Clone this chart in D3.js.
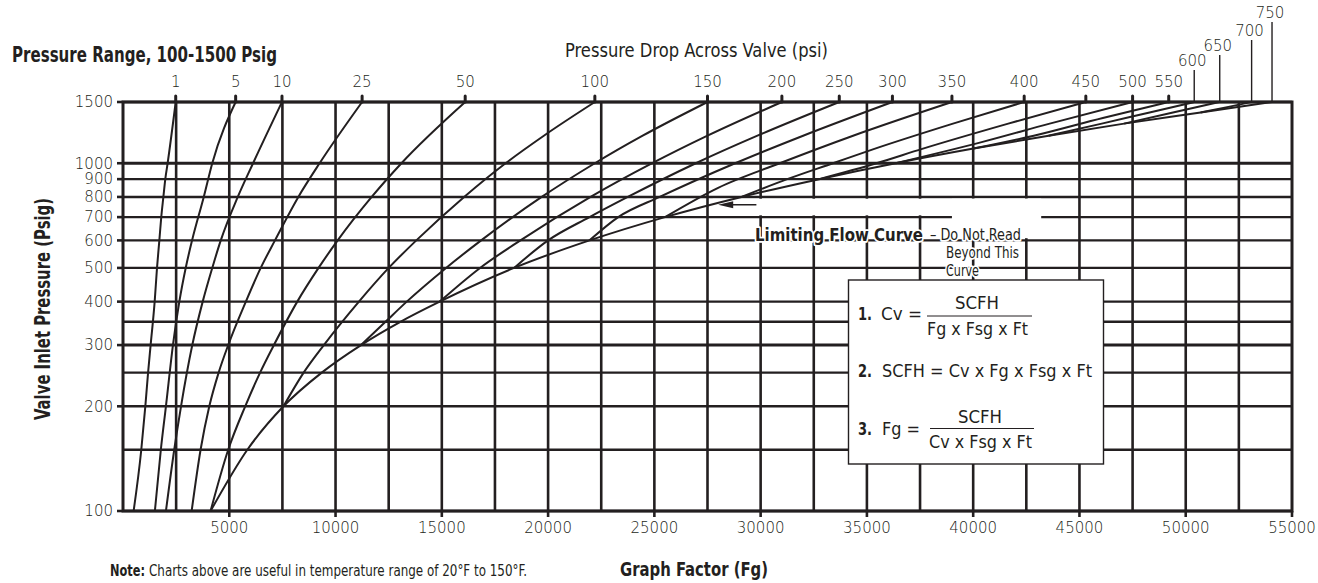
<!DOCTYPE html>
<html>
<head>
<meta charset="utf-8">
<script src="https://cdn.jsdelivr.net/npm/d3@7"></script>
<style>
  body { margin: 0; background: #fff; }
  svg { display: block; }
  text { fill: #231f20; }
  .num { font-family: "DejaVu Sans", sans-serif; font-size: 15px; font-weight: 200; }
  .nar { font-family: "Liberation Sans Narrow", "DejaVu Sans Condensed", "Liberation Sans", sans-serif; }
</style>
</head>
<body>
<svg width="1318" height="583"></svg>
<script>
// axis values
var fgTicks = [5000, 10000, 15000, 20000, 25000, 30000, 35000, 40000, 45000, 50000, 55000];
var pressureTicks = [100, 200, 300, 400, 500, 600, 700, 800, 900, 1000, 1500];
var pressureGrid = [100, 150, 200, 250, 300, 350, 400, 500, 600, 700, 800, 900, 1000, 1500];
// pressure drop labels along the top and the Fg where each curve meets 1500 psig
var dropLabels = [1, 5, 10, 25, 50, 100, 150, 200, 250, 300, 350, 400, 450, 500, 550, 600, 650, 700, 750];
var dropTopFg = [2480, 5300, 7480, 11250, 16100, 22200, 27500, 31000, 33700, 36200, 39000, 42400, 45300, 47500, 49200, 50400, 51600, 53100, 54060];

// curves: [Fg, inlet pressure]
var c1 = [[2480,1500],[2100,1000],[1990,900],[1900,800],[1800,700],[1710,600],[1600,500],[1490,400],[1300,300],[1180,250],[1050,200],[860,150],[500,100]];
var c5 = [[5300,1500],[4200,1000],[3800,800],[3250,600],[2950,500],[2650,400],[2350,300],[2020,200],[1780,150],[1500,100]];
var c10 = [[7480,1500],[6120,1000],[5400,800],[4600,600],[4200,500],[3750,400],[3260,300],[2730,200],[2410,150],[2020,100]];
var c25 = [[11250,1500],[9250,1000],[8250,800],[7150,600],[6480,500],[5780,400],[4950,300],[4500,250],[4060,200],[3650,150],[3230,100]];
var c50 = [[16100,1500],[13100,1000],[11700,800],[10100,600],[9200,500],[8200,400],[7100,300],[6450,250],[5750,200],[4950,150],[4120,100]];
var c100 = [[22200,1500],[19800,1200],[18000,1000],[16050,800],[13800,600],[12500,500],[11100,400],[9450,300],[8500,250],[7550,200]];
var c150 = [[27500,1500],[24450,1200],[22200,1000],[19700,800],[16850,600],[15200,500],[13350,400],[12350,350],[11200,300]];
var c200 = [[31000,1500],[27500,1200],[24900,1000],[22000,800],[18700,600],[16800,500],[14900,400]];
var c250 = [[33700,1500],[29850,1200],[26950,1000],[23750,800],[21950,700],[20000,600],[18400,500]];
var c300 = [[36200,1500],[32000,1200],[28800,1000],[25250,800],[23300,700],[21950,600]];
var c350 = [[39000,1500],[34350,1200],[30900,1000],[28000,850],[25500,700]];
var c400 = [[42400,1500],[39050,1300],[35350,1100],[33400,1000],[31250,900],[29100,800]];
var c450 = [[45300,1500],[41650,1300],[37600,1100],[35450,1000],[32750,900]];
var c500 = [[47500,1500],[43600,1300],[40400,1150],[36350,1000]];
var c550 = [[49200,1500],[46100,1350],[42850,1200],[39950,1100]];
var c600 = [[50400,1500],[48300,1400],[46050,1300],[43550,1200]];
var c650 = [[51600,1500],[49400,1400],[47100,1300]];
var c700 = [[53100,1500],[51950,1450],[50700,1400]];
var limiting = [[4120,100],[5850,150],[7550,200],[9350,250],[11200,300],[13050,350],[14900,400],[18400,500],[21950,600],[25500,700],[29100,800],[32750,900],[36350,1000],[39950,1100],[43550,1200],[47100,1300],[50700,1400],[54060,1500]];

var ink = "#231f20";
var svg = d3.select("svg");
var x = d3.scaleLinear().domain([0, 55000]).range([123, 1292]);
var y = d3.scaleLog().domain([100, 1500]).range([511, 102]);

//////////// GRID ////////////
var grid = svg.append("g").attr("stroke", ink).attr("stroke-width", 2.6);
grid.selectAll("line.v")
  .data(d3.range(2500, 55000, 2500))
  .enter().append("line").attr("class", "v")
  .attr("x1", function (d) { return x(d); })
  .attr("x2", function (d) { return x(d); })
  .attr("y1", y(1500))
  .attr("y2", y(100));
grid.selectAll("line.h")
  .data(pressureGrid)
  .enter().append("line").attr("class", "h")
  .attr("x1", x(0))
  .attr("x2", x(55000))
  .attr("y1", function (d) { return y(d); })
  .attr("y2", function (d) { return y(d); })
  .attr("stroke-width", function (d) { return (d === 1000 || d === 300) ? 3 : 2.4; });
svg.append("rect")
  .attr("x", x(0)).attr("y", y(1500))
  .attr("width", x(55000) - x(0)).attr("height", y(100) - y(1500))
  .attr("fill", "none").attr("stroke", ink).attr("stroke-width", 3);

// white gaps in the grid behind the label
svg.append("rect")
  .attr("x", x(27750)).attr("y", y(800) + 1.8)
  .attr("width", x(43200) - x(27750)).attr("height", y(700) - y(800) - 3.6)
  .attr("fill", "#fff");
svg.append("rect")
  .attr("x", x(39000)).attr("y", y(800) + 1.8)
  .attr("width", x(43200) - x(39000)).attr("height", y(600) - y(800) - 4)
  .attr("fill", "#fff");

//////////// AXES ////////////
// bottom
svg.append("g").selectAll("line")
  .data(fgTicks).enter().append("line")
  .attr("x1", function (d) { return x(d); })
  .attr("x2", function (d) { return x(d); })
  .attr("y1", y(100)).attr("y2", y(100) + 6)
  .attr("stroke", ink).attr("stroke-width", 2.6);
svg.append("g").selectAll("text")
  .data(fgTicks).enter().append("text")
  .attr("class", "num")
  .attr("x", function (d) { return x(d); })
  .attr("y", 533)
  .attr("text-anchor", "middle")
  .text(function (d) { return d; });

// left
svg.append("g").selectAll("line")
  .data(pressureTicks).enter().append("line")
  .attr("x1", x(0) - 6).attr("x2", x(0))
  .attr("y1", function (d) { return y(d); })
  .attr("y2", function (d) { return y(d); })
  .attr("stroke", ink).attr("stroke-width", 2.6);
svg.append("g").selectAll("text")
  .data(pressureTicks).enter().append("text")
  .attr("class", "num")
  .attr("x", 113)
  .attr("y", function (d) { return y(d) + 5.3; })
  .attr("text-anchor", "end")
  .text(function (d) { return d; });

// top: pressure drop
var leaderTop = [70, 55, 40, 22];
var labelBase = [68, 53, 38, 20];
svg.append("g").selectAll("line")
  .data(dropLabels).enter().append("line")
  .attr("x1", function (d, i) { return x(dropTopFg[i]); })
  .attr("x2", function (d, i) { return x(dropTopFg[i]); })
  .attr("y1", function (d, i) { return i < 15 ? y(1500) - 6 : leaderTop[i - 15]; })
  .attr("y2", y(1500))
  .attr("stroke", ink)
  .attr("stroke-width", function (d, i) { return i < 15 ? 3 : 1.4; })
  .attr("stroke-linecap", function (d, i) { return i < 15 ? "round" : "butt"; });
svg.append("g").selectAll("text")
  .data(dropLabels).enter().append("text")
  .attr("class", "num")
  .attr("x", function (d, i) { return x(dropTopFg[i]) - (i < 15 ? 0 : 2); })
  .attr("y", function (d, i) { return i < 15 ? 87 : labelBase[i - 15] - 2; })
  .attr("text-anchor", "middle")
  .text(function (d) { return d; });

//////////// CURVES ////////////
var curves = [c1, c5, c10, c25, c50, c100, c150, c200, c250, c300, c350, c400, c450, c500, c550, c600, c650, c700, limiting];
var line = d3.line()
  .x(function (d) { return x(d[0]); })
  .y(function (d) { return y(d[1]); })
  .curve(d3.curveMonotoneX);
svg.append("g").selectAll("path")
  .data(curves).enter().append("path")
  .attr("d", function (d) { return line(d.slice().sort(function (a, b) { return a[0] - b[0]; })); })
  .attr("fill", "none")
  .attr("stroke", ink)
  .attr("stroke-width", 2)
  .attr("stroke-linejoin", "round");

// arrow to the limiting curve
svg.append("line")
  .attr("x1", x(29800)).attr("x2", x(28300))
  .attr("y1", y(760)).attr("y2", y(760))
  .attr("stroke", ink).attr("stroke-width", 1.4);
svg.append("path")
  .attr("d", "M" + (x(28050) - 1) + "," + y(760) + "l15,-3.5l0,7z")
  .attr("fill", ink);

//////////// TEXT ////////////
function label(txt, px, py, size, weight, len, anchor) {
  var t = svg.append("text")
    .attr("class", "nar")
    .attr("x", px).attr("y", py)
    .style("font-size", size + "px")
    .style("font-weight", weight)
    .attr("text-anchor", anchor || "start")
    .text(txt);
  if (len) t.attr("textLength", len).attr("lengthAdjust", "spacingAndGlyphs");
  return t;
}

label("Pressure Range, 100-1500 Psig", 12, 62, 21, "bold", 265);
label("Pressure Drop Across Valve (psi)", 565, 57, 19, "normal", 263);
label("Graph Factor (Fg)", 620, 576, 20, "bold", 148);
label("Valve Inlet Pressure (Psig)", 0, 0, 21, "bold", 222)
  .attr("transform", "translate(50,420) rotate(-90)");
label("Note:", 110, 576, 15, "bold", 35);
label("Charts above are useful in temperature range of 20\u00b0F to 150\u00b0F.", 149, 576, 15, "normal", 378);

// limiting flow label with white halo
function halo(t) {
  t.style("stroke", "#fff").style("stroke-width", 3.5).style("paint-order", "stroke").style("stroke-linejoin", "round");
  return t;
}
halo(label("Limiting Flow Curve", 755, 241, 18, "bold", 168));
halo(label("\u2013 Do Not Read", 930, 240, 15, "normal", 91));
halo(label("Beyond This", 946, 258, 15, "normal", 73));
halo(label("Curve", 946, 276, 15, "normal", 33));

// formula box
svg.append("rect")
  .attr("x", 848.5).attr("y", 280)
  .attr("width", 255).attr("height", 184)
  .attr("fill", "#fff").attr("stroke", ink).attr("stroke-width", 1.4);
label("1.", 858, 320, 18, "bold", 14);
label("Cv =", 881, 320, 18, "normal", 41);
label("SCFH", 955, 309, 18, "normal", 44);
svg.append("line").attr("x1", 927).attr("x2", 1032).attr("y1", 316).attr("y2", 316)
  .attr("stroke", ink).attr("stroke-width", 1);
label("Fg x Fsg x Ft", 927, 335, 18, "normal", 101);
label("2.", 858, 377, 18, "bold", 14);
label("SCFH = Cv x Fg x Fsg x Ft", 882, 377, 18, "normal", 210);
label("3.", 858, 435, 18, "bold", 14);
label("Fg =", 882, 435, 18, "normal", 38);
label("SCFH", 958, 423, 18, "normal", 44);
svg.append("line").attr("x1", 930).attr("x2", 1034).attr("y1", 428.5).attr("y2", 428.5)
  .attr("stroke", ink).attr("stroke-width", 1);
label("Cv x Fsg x Ft", 929, 448, 18, "normal", 103);
</script>
</body>
</html>
